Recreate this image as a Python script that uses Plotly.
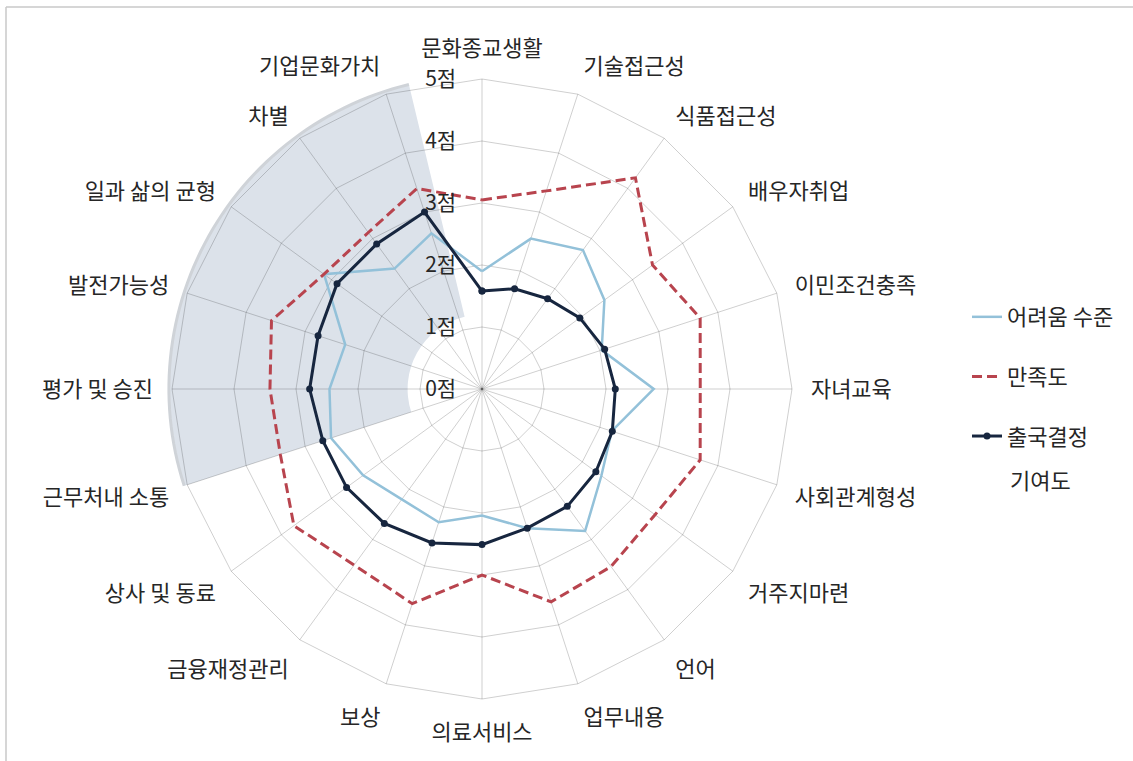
import plotly.graph_objects as go

# Survey items, listed clockwise from the top of the radar
categories = [
    "문화종교생활", "기술접근성", "식품접근성", "배우자취업", "이민조건충족",
    "자녀교육", "사회관계형성", "거주지마련", "언어", "업무내용",
    "의료서비스", "보상", "금융재정관리", "상사 및 동료", "근무처내 소통",
    "평가 및 승진", "발전가능성", "일과 삶의 균형", "차별", "기업문화가치",
]

difficulty = [1.90, 2.55, 2.77, 2.44, 2.03, 2.77, 2.20, 2.38, 2.83, 2.36,
              2.04, 2.26, 2.20, 2.37, 2.56, 2.46, 2.32, 3.15, 2.40, 2.64]
satisfaction = [3.05, 3.36, 4.21, 3.40, 3.70, 3.52, 3.70, 3.45, 3.54, 3.61,
                3.00, 3.64, 3.51, 3.75, 3.42, 3.42, 3.57, 3.15, 3.12, 3.40]
contribution = [1.58, 1.70, 1.80, 1.95, 2.08, 2.15, 2.21, 2.27, 2.34, 2.36,
                2.51, 2.61, 2.68, 2.70, 2.70, 2.78, 2.78, 2.89, 2.89, 3.00]

series_names = ["어려움 수준", "만족도", "출국결정"]
contribution_label_2nd_line = "기여도"
radial_ticks = [0, 1, 2, 3, 4, 5]
radial_text = [f"{v}점" for v in radial_ticks]

# Highlighted workplace sector (degrees clockwise from top, radial units)
sector_start, sector_end = 252.0, 346.5
sector_inner, sector_outer = 1.2, 5.05

FONT = "Noto Sans CJK KR"
TEXT = "#262626"
GRID = "rgba(0,0,0,0.19)"

cx, cy, rad = 482, 389, 310  # chart centre and outer radius in pixels
W, H = 1133, 761


def domain(radius_px):
    return dict(
        x=[(cx - radius_px) / W, (cx + radius_px) / W],
        y=[1 - (cy + radius_px) / H, 1 - (cy - radius_px) / H],
    )


def closed(vals):
    return list(vals) + [vals[0]]


cats = closed(categories)

fig = go.Figure()

# shaded workplace sector on an underlying polar subplot
fig.add_trace(go.Barpolar(
    r=[sector_outer - sector_inner], base=[sector_inner],
    theta=[(sector_start + sector_end) / 2], width=[sector_end - sector_start],
    marker=dict(color="#dce2ea", line=dict(width=0)),
    subplot="polar", showlegend=False, hoverinfo="skip",
))
arc = [sector_start + i * (sector_end - sector_start) / 60 for i in range(61)]
fig.add_trace(go.Scatterpolar(
    r=[sector_outer] * len(arc), theta=arc, mode="lines",
    line=dict(color="#cfd3d8", width=3),
    subplot="polar", showlegend=False, hoverinfo="skip",
))

fig.add_trace(go.Scatterpolar(
    r=closed(difficulty), theta=cats, name=series_names[0], mode="lines",
    line=dict(color="#93c1d9", width=2.5),
    subplot="polar2", legendgroup="a",
))
fig.add_trace(go.Scatterpolar(
    r=closed(satisfaction), theta=cats, name=series_names[1], mode="lines",
    line=dict(color="#b8444e", width=3, dash="10px,5px"),
    subplot="polar2", legendgroup="b",
))
fig.add_trace(go.Scatterpolar(
    r=closed(contribution), theta=cats, name=series_names[2], mode="lines+markers",
    line=dict(color="#17263f", width=3),
    marker=dict(size=7, color="#17263f"),
    subplot="polar2", legendgroup="c",
))

outer_px = rad * 5.2 / 5

fig.update_layout(
    width=W, height=H,
    margin=dict(l=0, r=0, t=0, b=0),
    paper_bgcolor="white",
    font=dict(family=FONT, size=22, color=TEXT),
    polar=dict(
        domain=domain(outer_px),
        bgcolor="white",
        angularaxis=dict(direction="clockwise", rotation=90, visible=False,
                         type="linear"),
        radialaxis=dict(range=[0, 5.2], visible=False),
    ),
    polar2=dict(
        domain=domain(rad),
        bgcolor="rgba(0,0,0,0)",
        gridshape="linear",
        angularaxis=dict(
            direction="clockwise", rotation=90, type="category",
            categoryorder="array", categoryarray=categories,
            showline=True, linecolor=GRID, linewidth=1,
            gridcolor=GRID, gridwidth=1,
            ticks="outside", ticklen=14, tickcolor="rgba(0,0,0,0)",
            tickfont=dict(family=FONT, size=22, color=TEXT),
        ),
        radialaxis=dict(
            range=[0, 5], tickvals=radial_ticks, ticktext=radial_text,
            angle=90, side="counterclockwise", tickangle=90,
            showline=False, gridcolor=GRID, gridwidth=1,
            ticks="outside", ticklen=18, tickcolor="rgba(0,0,0,0)",
            tickfont=dict(family=FONT, size=21, color=TEXT),
        ),
    ),
    legend=dict(
        x=0.8535, y=0.611, xanchor="left", yanchor="top",
        font=dict(family=FONT, size=22, color=TEXT),
        traceorder="grouped", tracegroupgap=28, valign="top",
        bgcolor="rgba(0,0,0,0)",
    ),
    annotations=[
        dict(text=contribution_label_2nd_line, xref="paper", yref="paper",
             x=1008 / W, y=1 - 479 / H, xanchor="left", yanchor="middle",
             showarrow=False, font=dict(family=FONT, size=22, color=TEXT)),
    ],
    shapes=[
        dict(type="line", xref="paper", yref="paper",
             x0=6 / W, x1=1.05, y0=1 - 7 / H, y1=1 - 7 / H,
             line=dict(color="#c8c8c8", width=1.5)),
        dict(type="line", xref="paper", yref="paper",
             x0=6 / W, x1=6 / W, y0=-0.05, y1=1 - 7 / H,
             line=dict(color="#c8c8c8", width=1.5)),
    ],
)

fig.write_html("out.html")
